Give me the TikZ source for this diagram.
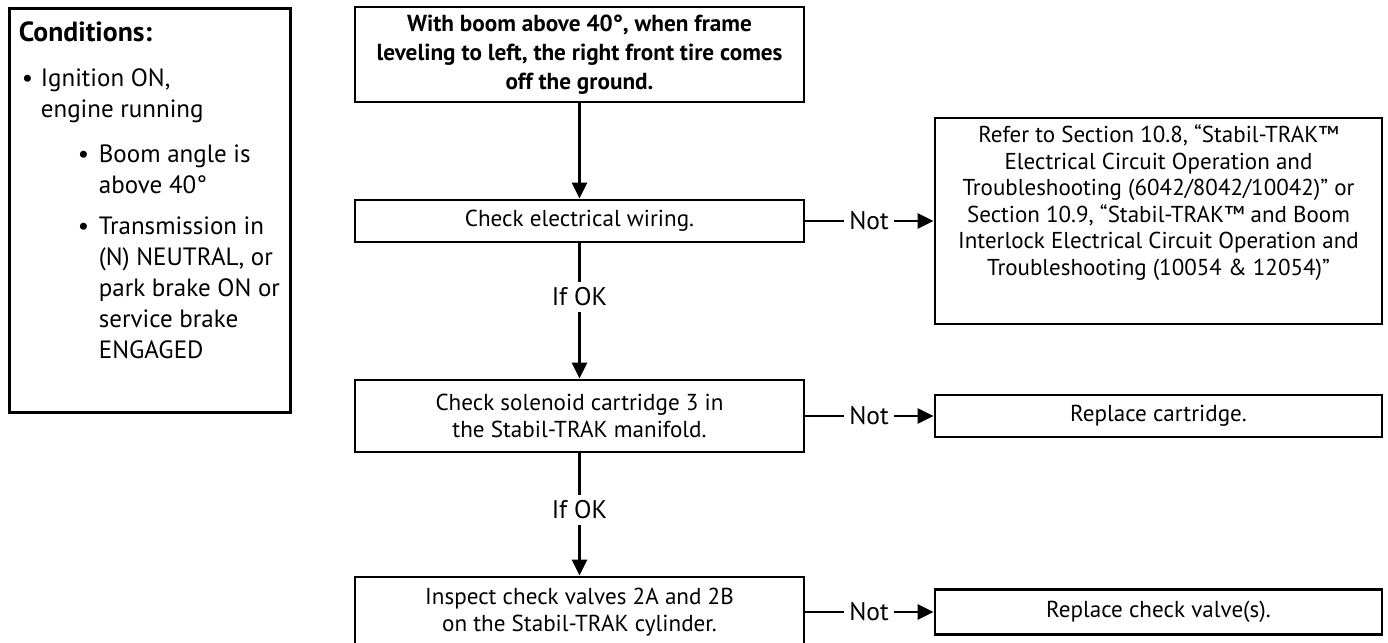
\documentclass[tikz,border=0pt]{standalone}
\usepackage{fontspec}
\setmainfont{PT Sans}
\usetikzlibrary{arrows.meta}

\begin{document}
\begin{tikzpicture}[x=1pt, y=-1pt,
  font=\fontsize{23.1}{27}\selectfont,
  stepbox/.style={draw, line width=2.8pt, minimum width=449pt, inner sep=0pt, align=center},
  flow/.style={line width=2.8pt, -{Triangle[length=16pt, width=15pt]}},
  answer/.style={inner xsep=5pt, inner ysep=6pt, font=\fontsize{25.5}{30}\selectfont}]

  \useasboundingbox (0,0) rectangle (1388,642);

  % Conditions (left)
  \node[draw, line width=2.8pt, anchor=north west, minimum width=281pt,
        minimum height=404pt, inner sep=0pt] (cond) at (8,7)
    {\parbox[c][381pt][t]{262pt}{\fontsize{25}{31}\selectfont
      \begin{tabular}{@{}l@{}}
      {\fontsize{27.7}{31}\selectfont\bfseries Conditions:}\\[14pt]
      \hspace*{3pt}\makebox[19pt][l]{•}Ignition ON,\\
      \hspace*{22pt}engine running\\[14pt]
      \hspace*{59pt}\makebox[21pt][l]{•}Boom angle is\\
      \hspace*{80pt}above 40°\\[10pt]
      \hspace*{59pt}\makebox[21pt][l]{•}Transmission in\\
      \hspace*{80pt}(N) NEUTRAL, or\\
      \hspace*{80pt}park brake ON or\\
      \hspace*{80pt}service brake\\
      \hspace*{80pt}ENGAGED
      \end{tabular}}};

  % Checks (middle column)
  \node[stepbox, minimum height=95pt, font=\fontsize{23.2}{29}\selectfont\bfseries] (top) at (579.5,54.5)
    {With boom above 40°, when frame\\leveling to left, the right front tire comes\\off the ground.};
  \node[stepbox, minimum height=42pt] (wire) at (579.5,221) {Check electrical wiring.};
  \node[stepbox, minimum height=72pt] (sol) at (579.5,416)
    {Check solenoid cartridge 3 in\\the Stabil-TRAK manifold.};
  \node[stepbox, minimum height=70pt] (insp) at (579.5,612)
    {Inspect check valves 2A and 2B\\on the Stabil-TRAK cylinder.};

  % Remedies (right column)
  \node[stepbox, minimum width=447pt, minimum height=206pt] (refer) at (1158.5,221)
    {\parbox[c][192pt][t]{440pt}{\centering\fontsize{23}{26.5}\selectfont
      Refer to Section 10.8, “Stabil-TRAK™\\
      Electrical Circuit Operation and\\
      Troubleshooting (6042/8042/10042)” or\\
      Section 10.9, “Stabil-TRAK™ and Boom\\
      Interlock Electrical Circuit Operation and\\
      Troubleshooting (10054 \& 12054)”}};
  \node[stepbox, minimum width=447pt, minimum height=42pt] (cart) at (1158.5,416) {Replace cartridge.};
  \node[stepbox, minimum width=447pt, minimum height=45pt] (valve) at (1158.5,612) {Replace check valve(s).};

  % Labels
  \node[answer] (ok1) at (579.5,297) {If OK};
  \node[answer] (ok2) at (579.5,510) {If OK};
  \node[answer] (not1) at (869,221) {Not};
  \node[answer] (not2) at (869,416) {Not};
  \node[answer] (not3) at (869,612) {Not};

  % Arrows
  \draw[flow] (top) -- (wire);
  \draw[flow] (wire) -- (ok1) -- (sol);
  \draw[flow] (sol) -- (ok2) -- (insp);
  \draw[flow] (wire) -- (not1) -- (refer);
  \draw[flow] (sol) -- (not2) -- (cart);
  \draw[flow] (insp) -- (not3) -- (valve);

\end{tikzpicture}
\end{document}
